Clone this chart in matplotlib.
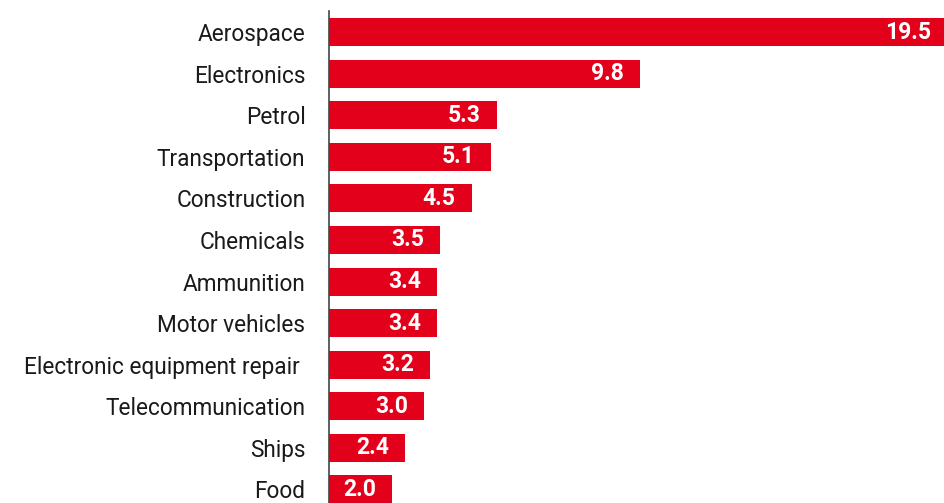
import matplotlib
matplotlib.use("Agg")
import matplotlib.pyplot as plt

categories = ["Aerospace", "Electronics", "Petrol", "Transportation", "Construction",
              "Chemicals", "Ammunition", "Motor vehicles", "Electronic equipment repair ",
              "Telecommunication", "Ships", "Food"]
values = [19.5, 9.8, 5.3, 5.1, 4.5, 3.5, 3.4, 3.4, 3.2, 3.0, 2.4, 2.0]

RED = "#E2001A"
plt.rcParams['font.family'] = ['Roboto', 'DejaVu Sans']

W, H = 944, 503
fig = plt.figure(figsize=(W / 100, H / 100), dpi=100)
left, right, top, bottom = 329, 944, 11, 503
ax = fig.add_axes([left / W, 1 - bottom / H, (right - left) / W, (bottom - top) / H])

y = list(range(len(categories)))
ax.barh(y, values, height=0.674, color=RED, zorder=2)
ax.set_xlim(0, 19.4)
ax.set_ylim(11.325, -0.505)

for yi, v in zip(y, values):
    ax.annotate(f"{v:.1f}", xy=(v, yi), xytext=(-16, 0), textcoords="offset pixels",
                ha="right", va="center", color="white", fontsize=16.5,
                fontweight="bold", annotation_clip=False, zorder=3)

ax.set_yticks(y)
ax.set_yticklabels(categories, fontsize=16.3, color="#1a1a1a")
ax.tick_params(axis="y", length=0, pad=17)
ax.set_xticks([])
for s in ["top", "right", "bottom"]:
    ax.spines[s].set_visible(False)
ax.spines["left"].set_color("#444444")
ax.spines["left"].set_linewidth(1.2)
ax.spines["left"].set_zorder(4)
ax.set_facecolor("none")

fig.savefig("out.png", dpi=100)
